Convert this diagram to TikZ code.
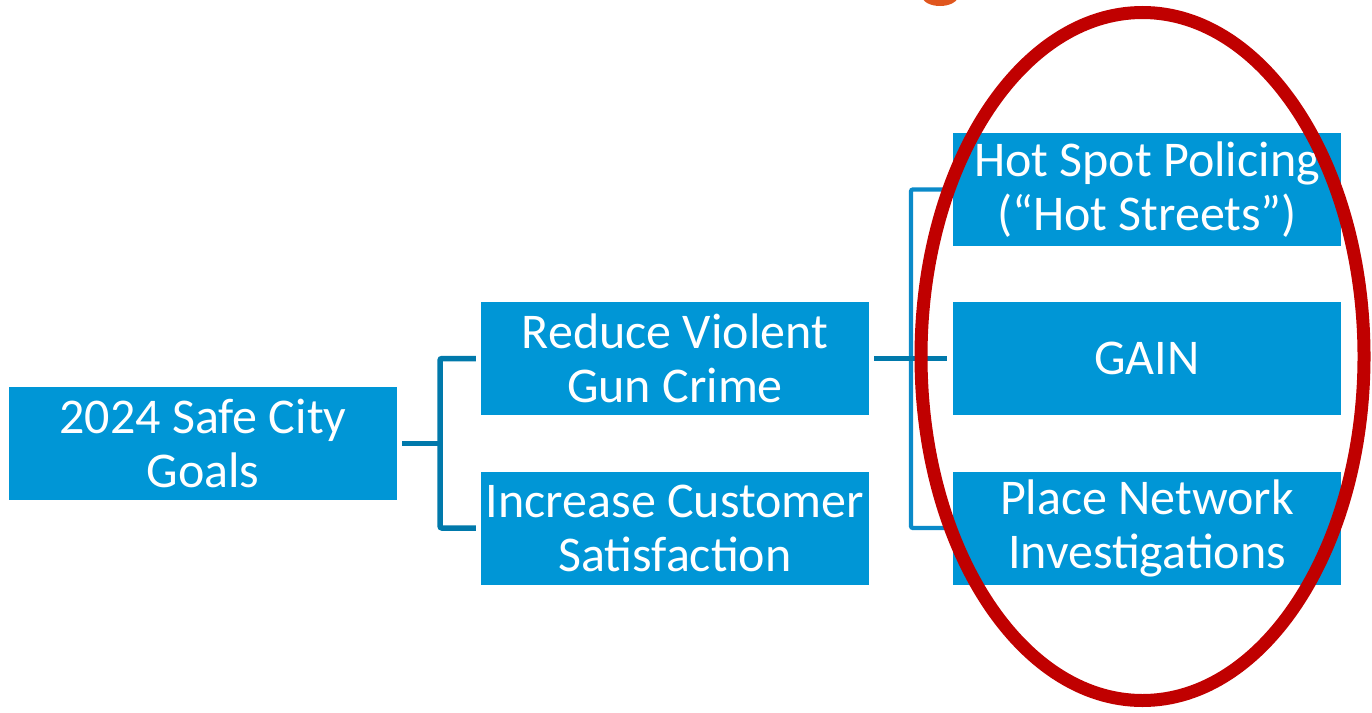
\documentclass[tikz,border=0pt]{standalone}
\usepackage{fontspec}
\setmainfont{Carlito}
\usepackage{xcolor}
\usetikzlibrary{positioning}
\definecolor{boxblue}{HTML}{0096D6}
\definecolor{linkdark}{HTML}{0079AB}
\definecolor{linklight}{HTML}{0A8AC9}
\definecolor{ringred}{HTML}{C00000}
\definecolor{titleorange}{HTML}{E0561E}

\tikzset{
  goalbox/.style={fill=boxblue, text=white, minimum width=388pt, minimum height=113pt,
    inner sep=0pt, align=center, font=\fontsize{50}{54}\selectfont},
  linkA/.style={draw=linkdark, line width=5.5pt, rounded corners=2pt},
  linkB/.style={draw=linklight, line width=4.3pt, rounded corners=2pt},
}

\begin{document}
\begin{tikzpicture}[x=1pt,y=-1pt]
      \useasboundingbox (0,0) rectangle (1372,712);
      \begin{scope}
      \clip (0,0) rectangle (1372,712);
      \fill[titleorange] (940,-4) ellipse [x radius=18pt, y radius=10pt];
      \end{scope}

      \node[goalbox] (goals) at (203,443.5) {2024 Safe City\\Goals};

      \node[goalbox] (reduce) at (675,358.5) {Reduce Violent\\Gun Crime};
      \node[goalbox] (increase) at (675,528) {Increase Customer\\Satisfaction};

      \node[goalbox] (hot) at (1147,189.5) {Hot Spot Policing\\(“Hot Streets”)};
      \node[goalbox] (gain) at (1147,358.5) {GAIN};
      \node[goalbox] (place) at (1147,528) {Place Network\\Investigations};

      % first level
      \coordinate (splitA) at (440,443.5);
      \draw[linkA] ([xshift=5pt]goals.east) -- (splitA);
      \draw[linkA] ([xshift=-5pt]reduce.west) -| (splitA) |- ([xshift=-5pt]increase.west);

      % second level
      \coordinate (splitB) at (911,358.5);
      \draw[linkB] ([xshift=-6pt]hot.west) -| (splitB) |- ([xshift=-6pt]place.west);
      \draw[linkA] ([xshift=5pt]reduce.east) -- ([xshift=-6pt]gain.west);

      % highlight
      \draw[ringred, line width=13pt] (1142.5,356.5) ellipse [x radius=221.5pt, y radius=344pt];
\end{tikzpicture}
\end{document}
